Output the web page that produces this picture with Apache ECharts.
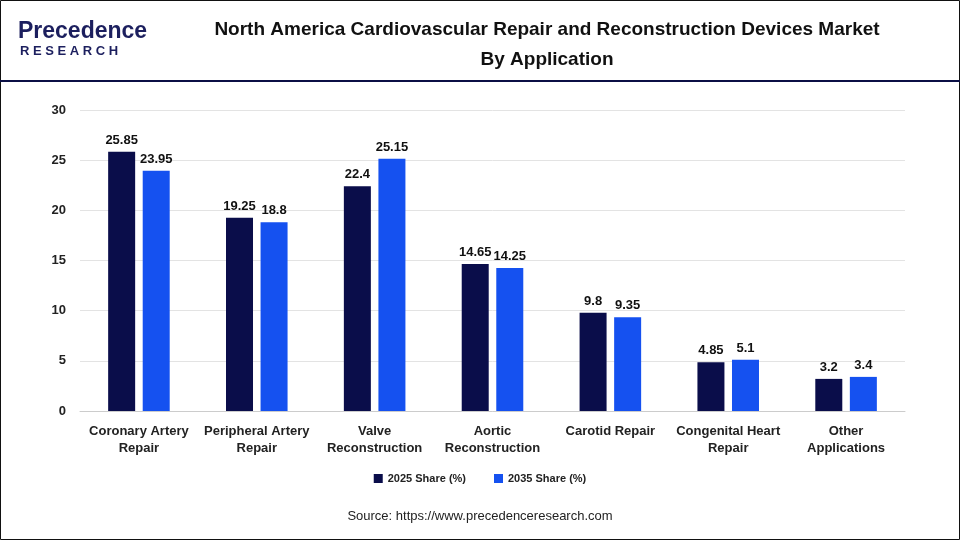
<!DOCTYPE html>
<html>
<head>
<meta charset="utf-8">
<script src="https://cdn.jsdelivr.net/npm/echarts@6/dist/echarts.min.js"></script>
<style>
  html, body { margin: 0; padding: 0; background: #fff; }
  #chart { width: 960px; height: 540px; }
</style>
</head>
<body>
<div id="chart"></div>
<script>
var categories = ['Coronary Artery\nRepair', 'Peripheral Artery\nRepair', 'Valve\nReconstruction', 'Aortic\nReconstruction', 'Carotid Repair', 'Congenital Heart\nRepair', 'Other\nApplications'];
var share2025 = [25.85, 19.25, 22.4, 14.65, 9.8, 4.85, 3.2];
var share2035 = [23.95, 18.8, 25.15, 14.25, 9.35, 5.1, 3.4];

var chart = echarts.init(document.getElementById('chart'));
var font = 'Arial, "Liberation Sans", sans-serif';
chart.setOption({
  textStyle: { fontFamily: font },
  graphic: [
    { type: 'rect', shape: { x: 0.5, y: 0.5, width: 959, height: 539 }, style: { fill: 'none', stroke: '#111', lineWidth: 1 } },
    { type: 'rect', shape: { x: 0, y: 80, width: 960, height: 2 }, style: { fill: '#0b0f45' } },
    // logo
    { type: 'text', x: 18, y: 20, style: { text: 'Precedence', fill: '#1c1f5e', font: 'bold 23px ' + font } },
    { type: 'text', x: 20, y: 45, style: { text: 'R E S E A R C H', fill: '#1c1f5e', font: 'bold 13px ' + font } },
    { type: 'text', x: 547, y: 15, style: { text: 'North America Cardiovascular Repair and Reconstruction Devices Market\nBy Application', fill: '#111', font: 'bold 19px ' + font, align: 'center', lineHeight: 30 } },
    { type: 'text', left: 'center', top: 510, style: { text: 'Source: https://www.precedenceresearch.com', fill: '#222', font: '13px ' + font } }
  ],
  color: ['#0a0d4a', '#1551f0'],
  legend: {
    top: 468, left: 'center', itemWidth: 9, itemHeight: 9, itemGap: 28,
    icon: 'rect',
    textStyle: { fontSize: 11, fontWeight: 'bold', color: '#222' },
    data: ['2025 Share (%)', '2035 Share (%)']
  },
  grid: { left: 80, right: 55, top: 110, bottom: 129 },
  xAxis: {
    type: 'category', data: categories,
    axisTick: { show: false },
    axisLine: { lineStyle: { color: '#ccc' } },
    axisLabel: { color: '#222', fontSize: 13, fontWeight: 'bold', interval: 0, lineHeight: 17, margin: 12 }
  },
  yAxis: {
    type: 'value', min: 0, max: 30, interval: 5,
    axisLabel: { color: '#222', fontSize: 13, fontWeight: 'bold', margin: 14 },
    splitLine: { lineStyle: { color: '#e3e3e3' } }
  },
  series: [
    { name: '2025 Share (%)', type: 'bar', data: share2025, barWidth: 27, barGap: '28%',
      label: { show: true, position: 'top', color: '#111', fontSize: 13, fontWeight: 'bold' } },
    { name: '2035 Share (%)', type: 'bar', data: share2035, barWidth: 27,
      label: { show: true, position: 'top', color: '#111', fontSize: 13, fontWeight: 'bold' } }
  ]
});
</script>
</body>
</html>
